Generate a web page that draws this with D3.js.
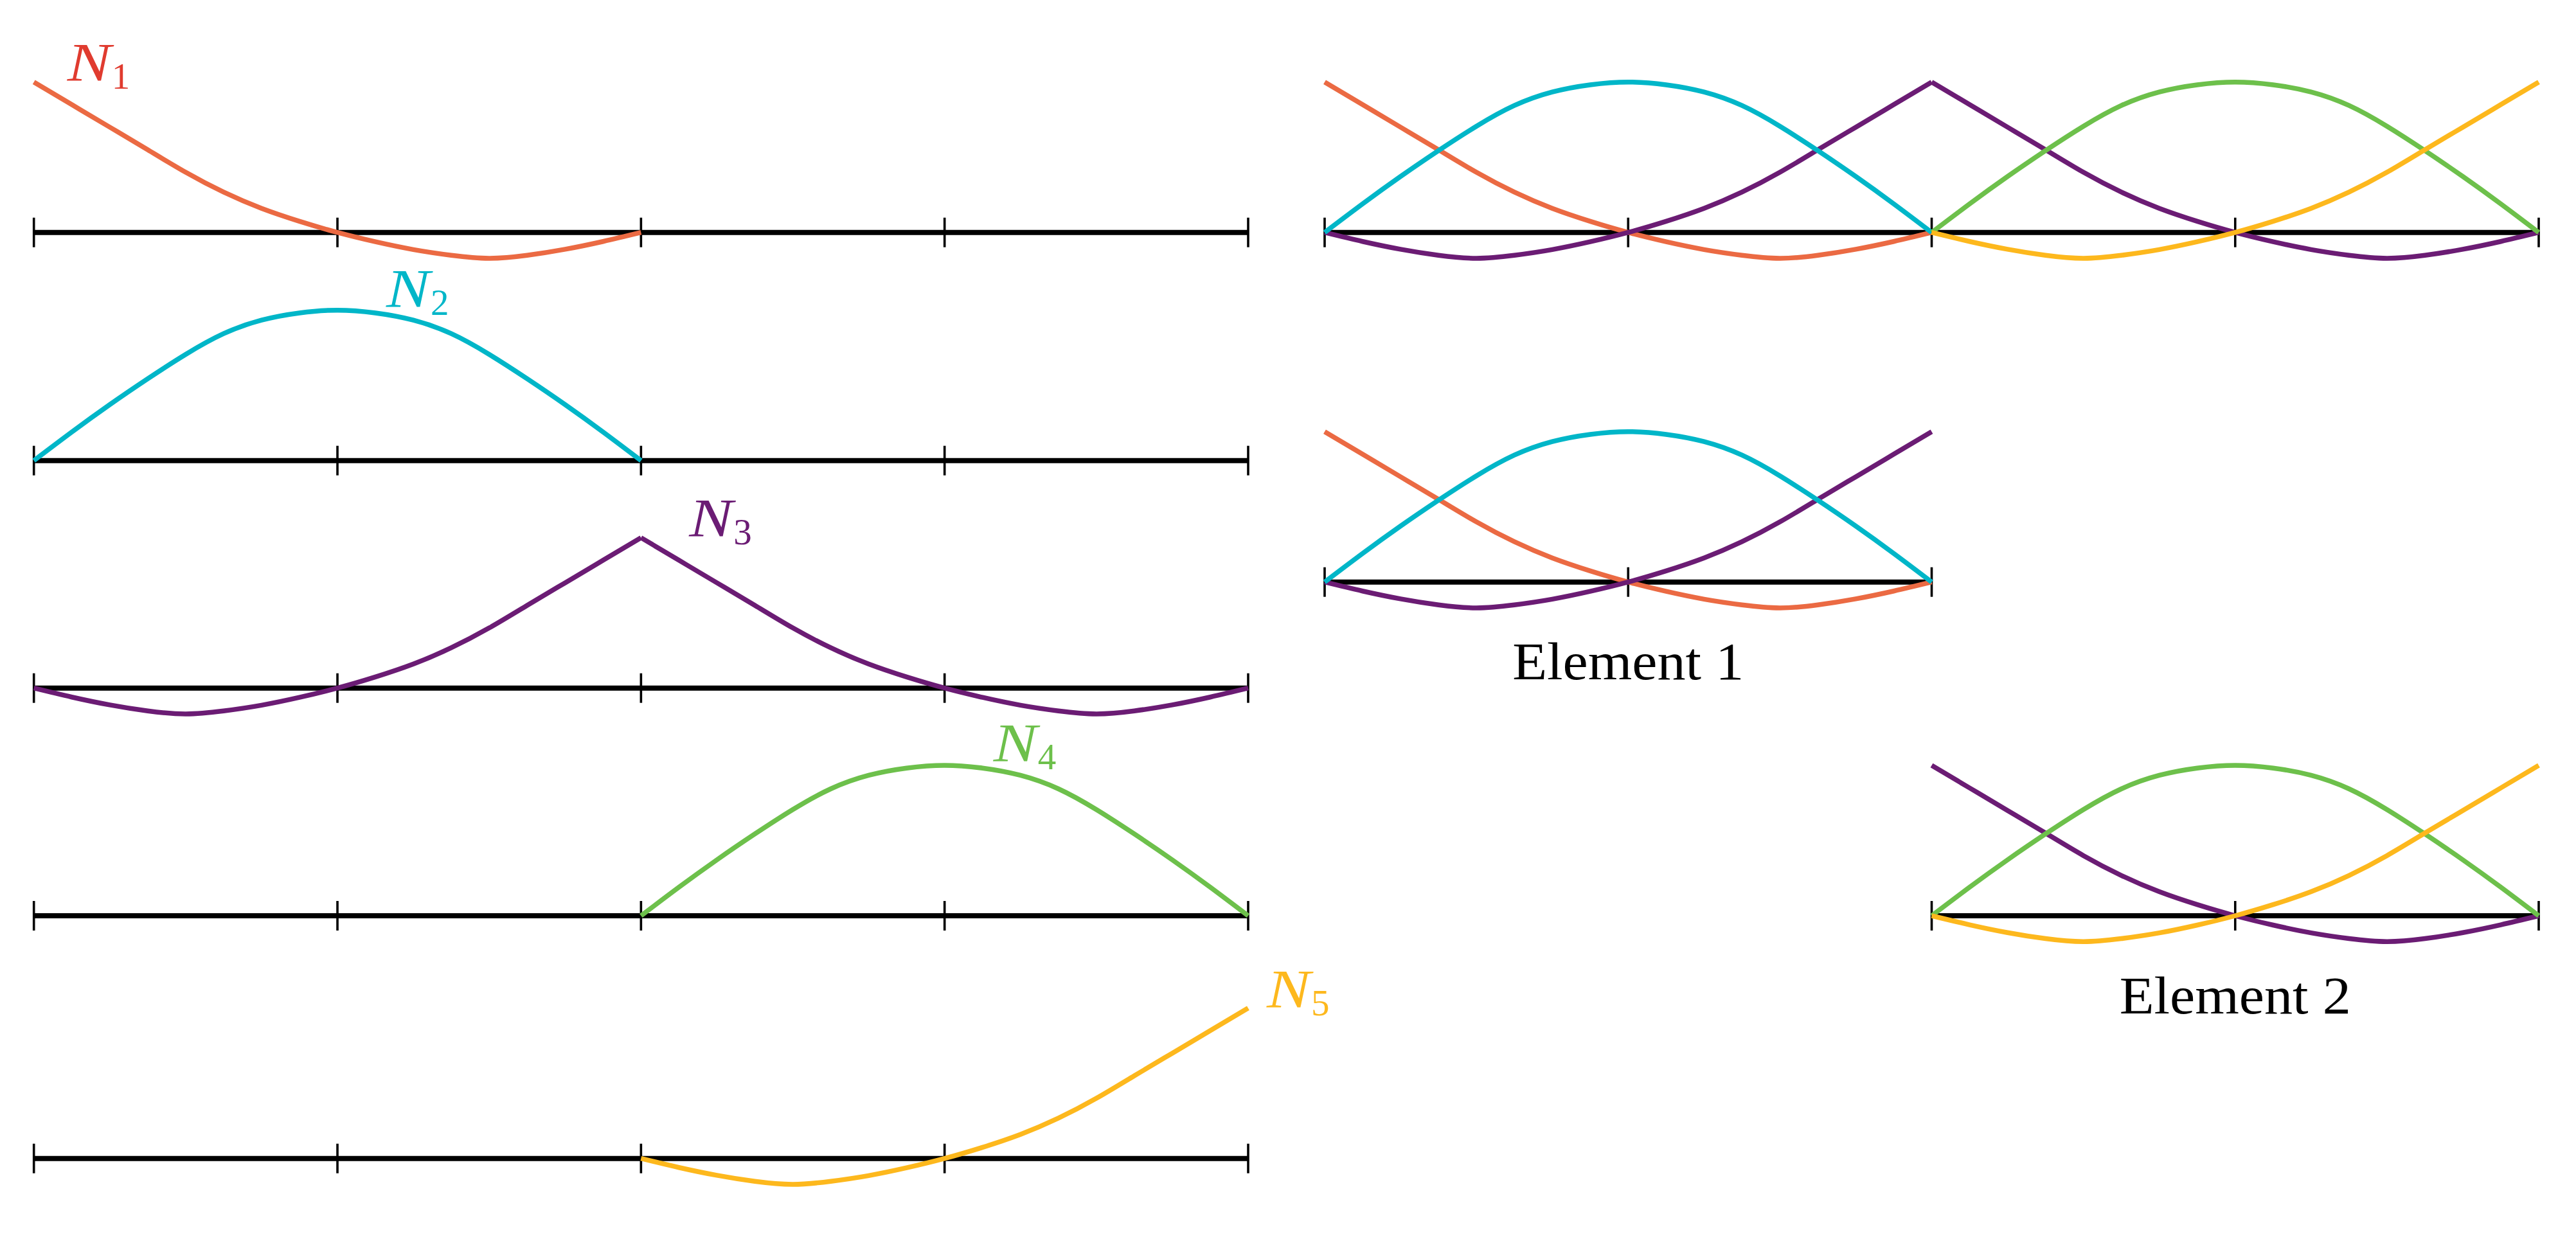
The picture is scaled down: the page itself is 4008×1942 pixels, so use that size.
<!DOCTYPE html>
<html>
<head>
<meta charset="utf-8">
<script src="https://cdn.jsdelivr.net/npm/d3@7"></script>
<style>
  html, body { margin: 0; padding: 0; background: #ffffff; }
  svg { display: block; }
</style>
</head>
<body>
<svg id="chart" width="4008" height="1942"></svg>
<script>
// ---------------- DATA ----------------
// element-local coordinate (0..2 across one quadratic element)
const xiValues = [0.000, 0.125, 0.250, 0.375, 0.500, 0.625, 0.750, 0.875, 1.000,
                  1.125, 1.250, 1.375, 1.500, 1.625, 1.750, 1.875, 2.000];
// shape function that is 1 at the left node of an element
const phiLeft  = [1.000, 0.850, 0.700, 0.550, 0.400, 0.268, 0.160, 0.074, 0.000,
                  -0.062, -0.114, -0.152, -0.172, -0.152, -0.112, -0.060, 0.000];
// shape function that is 1 at the middle node of an element
const phiMid   = [0.000, 0.190, 0.372, 0.544, 0.706, 0.844, 0.934, 0.982, 1.000,
                  0.982, 0.934, 0.844, 0.706, 0.544, 0.372, 0.190, 0.000];
// shape function that is 1 at the right node of an element
const phiRight = [0.000, -0.060, -0.112, -0.152, -0.172, -0.152, -0.114, -0.062, 0.000,
                  0.074, 0.160, 0.268, 0.400, 0.550, 0.700, 0.850, 1.000];

const nodeNames    = ["1", "2", "3", "4", "5"];
const nodePos      = [0, 1, 2, 3, 4];          // global node coordinates
const elementStart = [0, 2];                   // element 1 : 0..2, element 2 : 2..4
const tickValues   = [0, 1, 2, 3, 4];
const elementNames = ["Element 1", "Element 2"];

// which local shape function forms each global N on each element
const nodePieces = [
  [{ el: 0, phi: phiLeft }],
  [{ el: 0, phi: phiMid }],
  [{ el: 0, phi: phiRight }, { el: 1, phi: phiLeft }],
  [{ el: 1, phi: phiMid }],
  [{ el: 1, phi: phiRight }]
];

// ---------------- STYLE / LAYOUT ----------------
const lineColors  = ["#EB6A43", "#00B6C8", "#6B1C74", "#6DC04B", "#FDB81D"];
const labelColors = ["#E03B2F", "#00B6C8", "#6B1C74", "#6DC04B", "#FDB81D"];
const unitH = 234;
const leftRange  = [52.7, 1942];
const rightRange = [2061, 3950];
const leftBases  = [361.7, 716.7, 1070.7, 1425, 1802.7];
const labelOffsets = [[52, -2], [76, -5], [75, -2], [76, -6], [29, -1]];

const svg = d3.select("#chart");
svg.append("rect").attr("width", 4008).attr("height", 1942).attr("fill", "#fff");

const line = (x, y) => d3.line()
  .x(d => x(d[0]))
  .y(d => y(d[1]))
  .curve(d3.curveNatural);

function drawAxis(g, x, y, domain) {
  g.append("line")
    .attr("x1", x(domain[0])).attr("x2", x(domain[1]))
    .attr("y1", y(0)).attr("y2", y(0))
    .attr("stroke", "#000").attr("stroke-width", 8);
  const ticks = tickValues.filter(t => t >= domain[0] && t <= domain[1]);
  g.selectAll("line.tick").data(ticks).enter().append("line")
    .attr("class", "tick")
    .attr("x1", d => x(d)).attr("x2", d => x(d))
    .attr("y1", y(0) - 23).attr("y2", y(0) + 23)
    .attr("stroke", "#000").attr("stroke-width", 3.6);
}

function drawNode(g, x, y, i, elements) {
  nodePieces[i].filter(p => elements.includes(p.el)).forEach(p => {
    const pts = xiValues.map((xi, k) => [elementStart[p.el] + xi, p.phi[k]]);
    g.append("path")
      .attr("d", line(x, y)(pts))
      .attr("fill", "none")
      .attr("stroke", lineColors[i])
      .attr("stroke-width", 7.5)
      .attr("stroke-linecap", "butt")
      .attr("stroke-linejoin", "round");
  });
}

function drawLabel(g, x, y, i) {
  const lx = x(nodePos[i]) + labelOffsets[i][0];
  const ly = y(1) + labelOffsets[i][1];
  g.append("text")
    .attr("x", lx).attr("y", ly)
    .attr("fill", labelColors[i])
    .attr("font-family", "'Liberation Serif', 'DejaVu Serif', serif")
    .attr("font-style", "italic")
    .attr("font-size", 85)
    .attr("textLength", 68)
    .attr("lengthAdjust", "spacingAndGlyphs")
    .text("N");
  g.append("text")
    .attr("x", lx + 69).attr("y", ly + 12)
    .attr("fill", labelColors[i])
    .attr("font-family", "'Liberation Serif', 'DejaVu Serif', serif")
    .attr("font-size", 57)
    .text(nodeNames[i]);
}

// ---- left column: one row per global shape function ----
leftBases.forEach((base, i) => {
  const x = d3.scaleLinear().domain([0, 4]).range(leftRange);
  const y = d3.scaleLinear().domain([0, 1]).range([base, base - unitH]);
  const g = svg.append("g");
  drawAxis(g, x, y, [0, 4]);
  drawNode(g, x, y, i, [0, 1]);
  drawLabel(g, x, y, i);
});

// ---- right top: all functions together ----
{
  const base = 361.7;
  const x = d3.scaleLinear().domain([0, 4]).range(rightRange);
  const y = d3.scaleLinear().domain([0, 1]).range([base, base - unitH]);
  const g = svg.append("g");
  drawAxis(g, x, y, [0, 4]);
  [0, 2, 1, 3, 4].forEach(i => drawNode(g, x, y, i, [0, 1]));
}

// ---- right: element 1 and element 2 separately ----
const elemPanels = [
  { el: 0, base: 905.7, domain: [0, 2], nodes: [0, 2, 1], labelY: 1057 },
  { el: 1, base: 1425,  domain: [2, 4], nodes: [2, 3, 4], labelY: 1577 }
];
elemPanels.forEach(p => {
  const x = d3.scaleLinear().domain([0, 4]).range(rightRange);
  const y = d3.scaleLinear().domain([0, 1]).range([p.base, p.base - unitH]);
  const g = svg.append("g");
  drawAxis(g, x, y, p.domain);
  p.nodes.forEach(i => drawNode(g, x, y, i, [p.el]));
  g.append("text")
    .attr("x", x((p.domain[0] + p.domain[1]) / 2))
    .attr("y", p.labelY)
    .attr("text-anchor", "middle")
    .attr("font-family", "'Liberation Serif', 'DejaVu Serif', serif")
    .attr("font-size", 83)
    .attr("textLength", 360)
    .attr("lengthAdjust", "spacingAndGlyphs")
    .attr("fill", "#000")
    .text(elementNames[p.el]);
});
</script>
</body>
</html>
